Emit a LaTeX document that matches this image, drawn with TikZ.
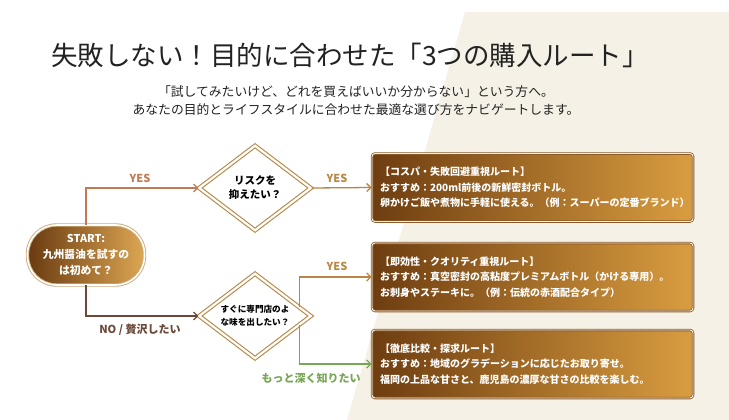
\documentclass[tikz,border=0pt]{standalone}
\usepackage{fontspec}
\newfontfamily\jp{Noto Sans CJK JP}
\usetikzlibrary{shapes.geometric,arrows.meta}

\definecolor{cream}{HTML}{F6F1E6}
\definecolor{gold}{HTML}{B98745}
\definecolor{terra}{HTML}{C27A52}
\definecolor{darkbr}{HTML}{6B4838}
\definecolor{leaf}{HTML}{78A655}
\definecolor{boxdark}{HTML}{6E3D10}
\definecolor{boxlight}{HTML}{D99D40}
\definecolor{boxedge}{HTML}{8A5A2A}
\definecolor{ink}{HTML}{222222}

\begin{document}
\begin{tikzpicture}[x=1pt,y=-1pt,
  >={Straight Barb[length=4pt,width=8pt]},
  link/.style={line width=1.3pt,->},
  question/.style={diamond,draw=gold,double=white,double distance=2.2pt,line width=1.1pt,
    fill=white,aspect=1.3,inner sep=0pt,minimum width=112,minimum height=85,align=center,
    text=black,font=\jp\bfseries\fontsize{10.5}{14}\selectfont},
  startbox/.style={rectangle,rounded corners=29pt,minimum width=117,minimum height=60,
    left color=boxdark!95!black,right color=boxlight!90!white,draw=gold!70!white,
    double=white,double distance=1.6pt,line width=0.9pt,align=center,text=white,
    font=\jp\bfseries\fontsize{10.8}{16}\selectfont},
  route/.style={rectangle,rounded corners=3pt,minimum height=68,text width=305,inner xsep=8pt,
    left color=boxdark,right color=boxlight,draw=boxedge,double=white!85!boxlight,
    double distance=0.9pt,line width=0.8pt,align=left,text=white,
    font=\jp\bfseries\fontsize{10}{15.5}\selectfont},
  lbl/.style={font=\jp\bfseries\fontsize{11}{13}\selectfont}]

\useasboundingbox (0,0) rectangle (729,420);
\fill[white] (0,0) rectangle (729,420);
\fill[cream] (465,12) -- (729,12) -- (729,420) -- (347,420) -- cycle;

\node[text=ink,font=\jp\fontsize{26.5}{30}\selectfont] (title) at (350,55)
  {失敗しない！目的に合わせた「3つの購入ルート」};
\node[text=ink,align=center,font=\jp\fontsize{12.8}{18}\selectfont] (lead) at (356,101)
  {「試してみたいけど、どれを買えばいいか分からない」という方へ。\\
   あなたの目的とライフスタイルに合わせた最適な選び方をナビゲートします。};

\node[startbox] (start) at (86,255) {START:\\九州醤油を試すの\\は初めて？};
\node[question] (q1) at (255,188) {リスクを\\抑えたい？};
\node[question,font=\jp\bfseries\fontsize{8.6}{13}\selectfont] (q2) at (255,316)
  {すぐに専門店のよ\\な味を出したい？};

\node[route] (box1) at (532.5,187.5)
  {【コスパ・失敗回避重視ルート】\\
   おすすめ：200ml前後の新鮮密封ボトル。\\
   卵かけご飯や煮物に手軽に使える。（例：スーパーの定番ブランド）};
\node[route] (box2) at (532.5,277)
  {【即効性・クオリティ重視ルート】\\
   おすすめ：真空密封の高粘度プレミアムボトル（かける専用）。\\
   お刺身やステーキに。（例：伝統の赤酒配合タイプ）};
\node[route] (box3) at (532.5,364)
  {【徹底比較・探求ルート】\\
   おすすめ：地域のグラデーションに応じたお取り寄せ。\\
   福岡の上品な甘さと、鹿児島の濃厚な甘さの比較を楽しむ。};

\draw[link,terra] (start.north) |- (q1.west);
\draw[link,gold] (q1.east) -- (box1.west);
\draw[link,darkbr] (start.south) |- (q2.west);
\draw[link,gold] (q2.12) |- (box2.west);
\draw[link,leaf] (q2.-12) |- (box3.west);

\node[lbl,text=terra] (yes1) at (140,178) {YES};
\node[lbl,text=gold] (yes2) at (337,178) {YES};
\node[lbl,text=gold] (yes3) at (337,266) {YES};
\node[lbl,text=darkbr] (no) at (140,330) {NO / 贅沢したい};
\node[lbl,text=leaf] (deep) at (311,378) {もっと深く知りたい};
\end{tikzpicture}
\end{document}
